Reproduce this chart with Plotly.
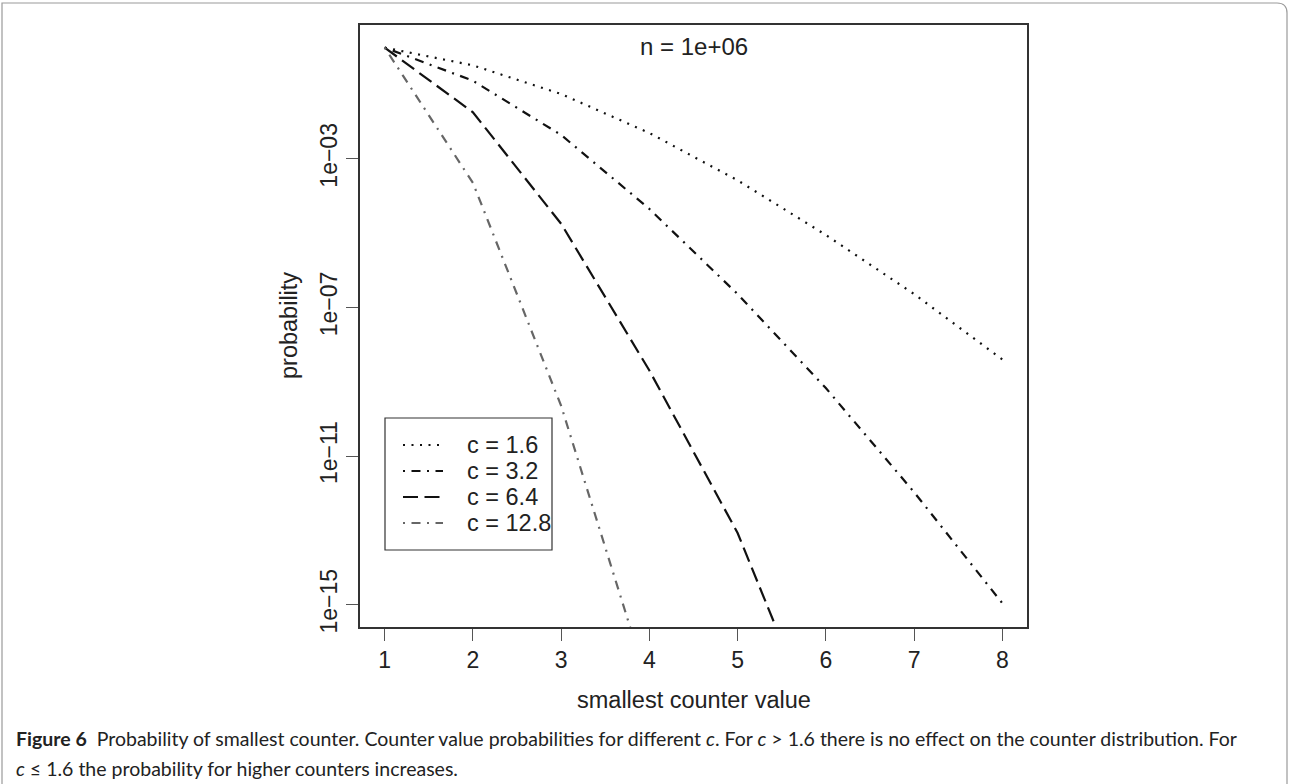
import plotly.graph_objects as go

# ---- data ----
counter_values = [1, 2, 3, 4, 5, 6, 7, 8]
labels = ["c = 1.6", "c = 3.2", "c = 6.4", "c = 12.8"]
p_c16 = [0.98, 3.27e-1, 5.53e-2, 4.94e-3, 2.63e-4, 8.9e-6, 2.29e-7, 3.98e-9]
p_c32 = [0.98, 1.26e-1, 4.37e-3, 4.47e-5, 2.29e-7, 6.76e-10, 1.07e-12, 1.1e-15]
p_c64 = [0.98, 1.78e-2, 1.78e-5, 2.0e-9, 8.5e-14, 1.26e-19]
p_c128 = [0.98, 2.24e-4, 2.24e-10, 5.4e-18]
ytick_vals = [1e-3, 1e-7, 1e-11, 1e-15]
ytick_text = ["1e\u221203", "1e\u221207", "1e\u221211", "1e\u221215"]
xtick_vals = [1, 2, 3, 4, 5, 6, 7, 8]

W, H = 1294, 784
L, R, T, B = 360, 267, 25, 157
PW, PH = W - L - R, H - T - B


def px(x):
    return (x - L) / PW


def py(y):
    return (H - B - y) / PH


FONT = "Liberation Sans, Arial, Helvetica, sans-serif"
CAP_FONT = "Lato, Open Sans, sans-serif"
TXT = "#222222"
series = [
    (p_c16, "#111111", "2px,6.5px", 2.2),
    (p_c32, "#111111", "2px,6.5px,9px,6.5px", 2.2),
    (p_c64, "#111111", "15px,6.5px", 2.2),
    (p_c128, "#666666", "2px,6.5px,9px,6.5px", 2.2),
]

fig = go.Figure()
for (vals, col, dash, w), name in zip(series, labels):
    fig.add_trace(go.Scatter(
        x=counter_values[:len(vals)], y=vals, mode="lines", name=name,
        line=dict(color=col, dash=dash, width=w), showlegend=False,
    ))

fig.update_layout(
    width=W, height=H,
    margin=dict(l=L, r=R, t=T, b=B, pad=0),
    paper_bgcolor="white", plot_bgcolor="white",
    font=dict(family=FONT, size=23, color=TXT),
    xaxis=dict(
        range=[0.72, 8.28], tickmode="array", tickvals=xtick_vals,
        ticks="outside", ticklen=12, tickwidth=1.3, tickcolor="#555555",
        showline=True, linecolor="#333333", linewidth=1.5, mirror=True,
        showgrid=False, zeroline=False,
        tickfont=dict(family=FONT, size=23, color=TXT),
    ),
    yaxis=dict(
        type="log", range=[-15.6, 0.6], tickmode="array",
        tickvals=ytick_vals, ticktext=ytick_text, tickangle=-90,
        ticks="outside", ticklen=12, tickwidth=1.3, tickcolor="#555555",
        showline=True, linecolor="#333333", linewidth=1.5, mirror=True,
        showgrid=False, zeroline=False,
        tickfont=dict(family=FONT, size=23, color=TXT),
    ),
)

ann = [
    dict(text="n = 1e+06", x=0.5, y=py(46.5), xanchor="center", yanchor="middle",
         font=dict(family=FONT, size=24, color=TXT)),
    dict(text="probability", x=px(289), y=0.5, textangle=-90,
         xanchor="center", yanchor="middle",
         font=dict(family=FONT, size=23.5, color=TXT)),
    dict(text="smallest counter value", x=0.5, y=py(700), xanchor="center", yanchor="middle",
         font=dict(family=FONT, size=23.5, color=TXT)),
    dict(text="<b>Figure 6</b>  Probability of smallest counter. Counter value probabilities for different <i>c</i>. "
              "For <i>c</i> &gt; 1.6 there is no effect on the counter distribution. For",
         x=px(14), y=py(738), xanchor="left", yanchor="middle", align="left",
         font=dict(family=CAP_FONT, size=19.5, color=TXT)),
    dict(text="<i>c</i> \u2264 1.6 the probability for higher counters increases.",
         x=px(14), y=py(768), xanchor="left", yanchor="middle", align="left",
         font=dict(family=CAP_FONT, size=19.5, color=TXT)),
]

# ---- legend box (R style) ----
LEG_L, LEG_R, LEG_T, LEG_B = 385, 552, 418, 550
ROW0, ROW_STEP = 445, 26
fig.add_shape(type="rect", xref="paper", yref="paper",
              x0=px(LEG_L), x1=px(LEG_R), y0=py(LEG_B), y1=py(LEG_T),
              line=dict(color="#333333", width=1.2), fillcolor="white", layer="above")
for i, ((vals, col, dash, w), name) in enumerate(zip(series, labels)):
    yy = py(ROW0 + i * ROW_STEP)
    fig.add_shape(type="line", xref="paper", yref="paper",
                  x0=px(403), x1=px(443), y0=yy, y1=yy, layer="above",
                  line=dict(color=col, dash=dash, width=w))
    ann.append(dict(text=name, x=px(465), y=yy, xanchor="left", yanchor="middle",
                    font=dict(family=FONT, size=23.5, color=TXT)))

for a in ann:
    a.update(xref="paper", yref="paper", showarrow=False)
    fig.add_annotation(**a)

# outer frame of the figure panel
fig.add_shape(type="path", xref="paper", yref="paper",
              path=f"M {px(2)},{py(790)} L {px(2)},{py(3)} L {px(1277)},{py(3)} "
                   f"Q {px(1287)},{py(3)} {px(1287)},{py(13)} L {px(1287)},{py(790)}",
              line=dict(color="#9a9a9a", width=1.2))

fig.write_html("out.html")
